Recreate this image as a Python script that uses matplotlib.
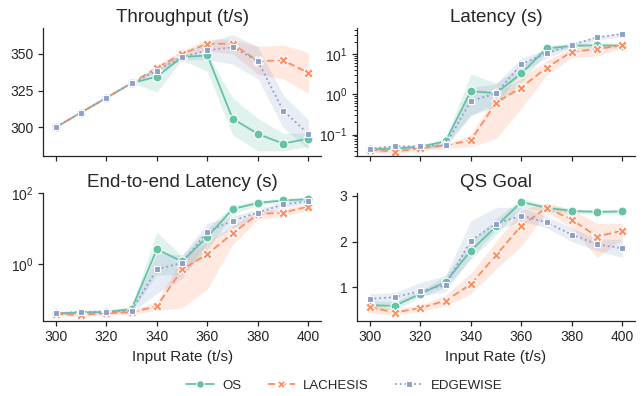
import numpy as np
import matplotlib
matplotlib.use("Agg")
import matplotlib.pyplot as plt
import seaborn as sns

sns.set_theme(style="ticks")
plt.rcParams['font.family'] = ['Liberation Sans', 'DejaVu Sans']
plt.rcParams.update({"axes.linewidth": 0.9, "xtick.major.width": 0.9, "ytick.major.width": 0.9,
                     "xtick.major.size": 3.5, "ytick.major.size": 3.5,
                     "ytick.minor.width": 0.7, "ytick.minor.size": 2})

rates = [300, 310, 320, 330, 340, 350, 360, 370, 380, 390, 400]
systems = ["OS", "LACHESIS", "EDGEWISE"]

# throughput (t/s)
thr_os = [300, 310, 320, 330, 334.5, 347.7, 348.9, 305.9, 295.5, 288.9, 292.3]
thr_os_lo = [300, 310, 320, 330, 324, 346, 338, 295, 284, 284, 287]
thr_os_hi = [300, 310, 320, 330, 341, 350, 350, 320, 306, 296, 296]
thr_la = [300, 310, 320, 330, 340.5, 350, 356.8, 356.8, 345, 345.5, 337]
thr_la_lo = [300, 310, 320, 330, 339, 348, 352, 350, 336, 333, 323]
thr_la_hi = [300, 310, 320, 330, 342, 352, 360, 360, 355, 356, 351]
thr_ed = [300, 310, 320, 330, 338.6, 347.7, 352.3, 354.5, 345, 311.4, 295.5]
thr_ed_lo = [300, 310, 320, 330, 337, 346, 346, 343, 333, 300, 285]
thr_ed_hi = [300, 310, 320, 330, 341, 350, 358, 363, 355, 322, 305]

# latency (s)
lat_os = [0.043, 0.045, 0.05, 0.068, 1.2, 1.07, 3.3, 13.8, 16, 16.5, 16]
lat_os_lo = [0.038, 0.042, 0.045, 0.055, 0.3, 0.5, 2.0, 11, 14, 14, 14]
lat_os_hi = [0.047, 0.05, 0.056, 0.08, 3.2, 1.9, 5.0, 16, 18, 19, 19]
lat_la = [0.042, 0.038, 0.046, 0.054, 0.072, 0.62, 1.47, 4.6, 11.4, 13.3, 16.5]
lat_la_lo = [0.036, 0.033, 0.04, 0.045, 0.05, 0.08, 0.45, 3.0, 8, 9, 14]
lat_la_hi = [0.045, 0.043, 0.05, 0.056, 0.1, 1.0, 2.5, 7, 14, 16, 19]
lat_ed = [0.045, 0.051, 0.051, 0.055, 0.68, 1.06, 5.6, 10.5, 16.8, 26, 31.6]
lat_ed_lo = [0.04, 0.044, 0.045, 0.048, 0.3, 0.6, 3.5, 8, 14, 22, 27]
lat_ed_hi = [0.05, 0.055, 0.057, 0.065, 1.5, 1.8, 8, 13, 19, 28, 34]

# end-to-end latency (s)
e2e_os = [0.042, 0.044, 0.046, 0.055, 2.6, 1.2, 5.8, 35, 52, 61, 66]
e2e_os_lo = [0.038, 0.04, 0.043, 0.048, 0.5, 0.5, 2.5, 25, 45, 55, 60]
e2e_os_hi = [0.047, 0.05, 0.052, 0.065, 8, 1.7, 10, 45, 60, 70, 75]
e2e_la = [0.04, 0.038, 0.042, 0.045, 0.066, 0.71, 1.9, 7.3, 25, 28, 41]
e2e_la_lo = [0.036, 0.034, 0.038, 0.04, 0.05, 0.06, 0.2, 3.5, 18, 22, 32]
e2e_la_hi = [0.045, 0.043, 0.047, 0.05, 0.09, 1.5, 4, 12, 32, 35, 50]
e2e_ed = [0.042, 0.046, 0.047, 0.05, 0.71, 1.1, 8.1, 16.5, 28, 47, 58]
e2e_ed_lo = [0.038, 0.042, 0.043, 0.045, 0.15, 0.4, 4, 10, 22, 38, 50]
e2e_ed_hi = [0.047, 0.05, 0.052, 0.058, 2, 1.8, 14, 22, 35, 58, 66]

# QS goal
qs_os = [0.6, 0.59, 0.85, 1.11, 1.8, 2.33, 2.87, 2.74, 2.67, 2.65, 2.66]
qs_os_lo = [0.5, 0.5, 0.78, 1.0, 1.6, 2.15, 2.75, 2.65, 2.62, 2.6, 2.6]
qs_os_hi = [0.7, 0.68, 0.92, 1.25, 2.0, 2.5, 2.95, 2.8, 2.72, 2.7, 2.72]
qs_la = [0.56, 0.44, 0.54, 0.70, 1.06, 1.70, 2.35, 2.74, 2.48, 2.11, 2.24]
qs_la_lo = [0.43, 0.38, 0.48, 0.58, 0.85, 1.4, 1.9, 2.65, 2.3, 1.65, 2.05]
qs_la_hi = [0.68, 0.52, 0.6, 0.82, 1.3, 2.0, 2.7, 2.85, 2.7, 2.4, 2.4]
qs_ed = [0.74, 0.78, 0.91, 1.04, 2.02, 2.39, 2.57, 2.42, 2.15, 1.94, 1.85]
qs_ed_lo = [0.6, 0.65, 0.8, 0.9, 1.65, 2.25, 2.45, 2.3, 2.0, 1.8, 1.65]
qs_ed_hi = [0.85, 0.88, 1.1, 1.25, 2.45, 2.75, 2.75, 2.55, 2.3, 2.05, 2.05]

panels = [
    ("Throughput (t/s)", [(thr_os, thr_os_lo, thr_os_hi), (thr_la, thr_la_lo, thr_la_hi), (thr_ed, thr_ed_lo, thr_ed_hi)], False),
    ("Latency (s)", [(lat_os, lat_os_lo, lat_os_hi), (lat_la, lat_la_lo, lat_la_hi), (lat_ed, lat_ed_lo, lat_ed_hi)], True),
    ("End-to-end Latency (s)", [(e2e_os, e2e_os_lo, e2e_os_hi), (e2e_la, e2e_la_lo, e2e_la_hi), (e2e_ed, e2e_ed_lo, e2e_ed_hi)], True),
    ("QS Goal", [(qs_os, qs_os_lo, qs_os_hi), (qs_la, qs_la_lo, qs_la_hi), (qs_ed, qs_ed_lo, qs_ed_hi)], False),
]

colors = sns.color_palette("Set2", 3)
styles = [dict(ls="-", marker="o", ms=6.5), dict(ls=(0, (4, 2)), marker="X", ms=6.5), dict(ls=":", marker="s", ms=5)]

fig, axes = plt.subplots(2, 2, figsize=(6.44, 3.96), dpi=100, sharex=True)
fig.subplots_adjust(left=0.067, right=0.986, top=0.93, bottom=0.19, wspace=0.13, hspace=0.29)

handles = []
for ax, (title, series, logy) in zip(axes.flat, panels):
    for (mean, lo, hi), c, st, name in zip(series, colors, styles, systems):
        ax.fill_between(rates, lo, hi, color=c, alpha=0.2, lw=0)
        h, = ax.plot(rates, mean, color=c, lw=1.3, mec="white", mew=0.8, label=name, **st)
        if ax is axes[0, 0]:
            handles.append(h)
    if logy:
        ax.set_yscale("log")
    ax.set_title(title, fontsize=13.5, pad=4)
    ax.tick_params(labelsize=10)
    sns.despine(ax=ax)

axes[0, 0].set_ylim(280.7, 367.7)
axes[0, 0].set_yticks([300, 325, 350])
axes[0, 1].set_ylim(0.03, 45)
axes[1, 0].set_ylim(0.026, 100)
axes[1, 0].set_yticks([1, 100])
axes[1, 0].yaxis.set_minor_locator(matplotlib.ticker.NullLocator())
axes[1, 1].set_ylim(0.26, 3.07)
axes[1, 1].set_yticks([1, 2, 3])
for ax in axes[1]:
    ax.set_xticks(range(300, 401, 20))
    ax.set_xlabel("Input Rate (t/s)", fontsize=11)

fig.legend(handles, systems, loc="lower center", ncol=3, frameon=False, fontsize=9.5,
           bbox_to_anchor=(0.535, -0.02), handlelength=2.1, handletextpad=0.6,
           columnspacing=2.0, markerscale=0.85)

fig.savefig("out.png", dpi=100)
